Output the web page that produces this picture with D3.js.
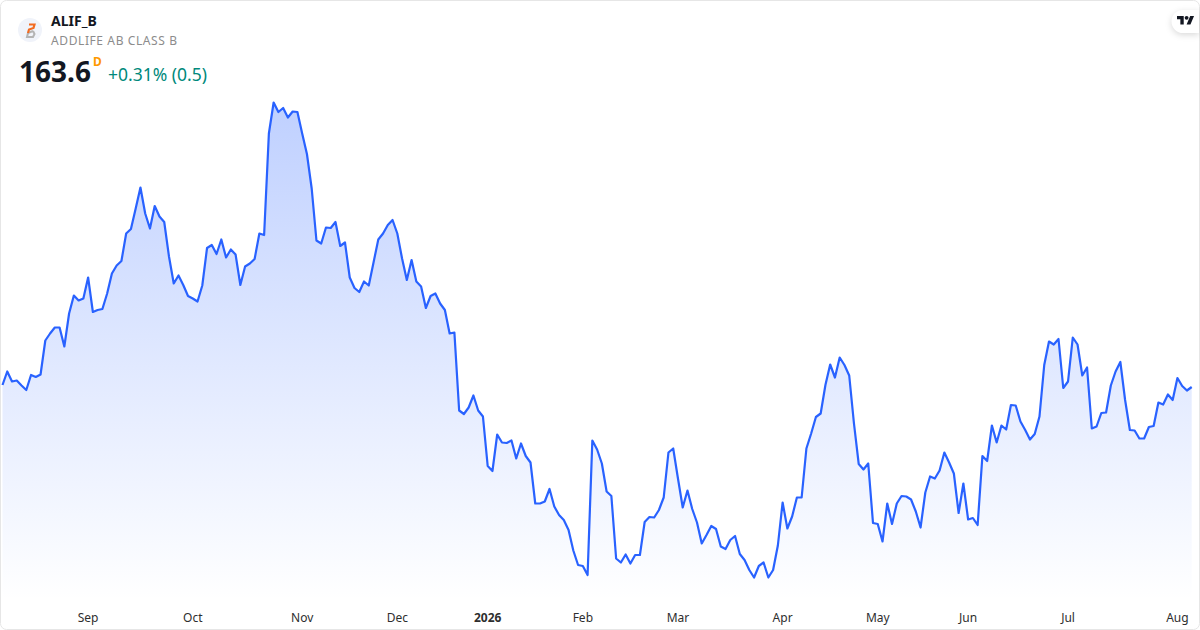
<!DOCTYPE html>
<html>
<head>
<meta charset="utf-8">
<script src="https://cdn.jsdelivr.net/npm/d3@7"></script>
<style>
  html, body { margin: 0; padding: 0; background: #fff; }
  svg { display: block; font-family: "Noto Sans", "Open Sans", sans-serif; }
</style>
</head>
<body>
<svg id="chart"></svg>
<script>
// closing prices, one per trading day
var closes = [
  164.0,166.7,164.7,164.9,163.9,163.0,166.0,165.6,166.1,172.9,
  174.3,175.5,175.5,171.7,178.3,181.9,180.9,181.3,185.5,178.6,
  179.0,179.2,182.3,186.3,187.9,188.8,194.3,195.2,199.3,203.5,
  198.3,195.3,199.8,197.7,196.6,189.7,184.3,185.9,184.0,181.8,
  181.3,180.7,183.9,191.4,192.0,190.2,193.1,189.5,191.1,190.1,
  184.0,187.7,188.3,189.2,194.3,194.0,214.3,220.5,218.6,219.4,
  217.5,218.7,218.6,214.3,210.2,203.3,192.9,192.3,195.5,195.4,
  196.6,191.8,192.5,185.5,183.4,182.6,184.7,183.9,188.5,193.1,
  194.3,196.0,197.0,194.3,189.3,185.0,189.0,184.7,183.7,179.4,
  181.8,182.3,180.3,179.0,174.3,174.5,158.9,158.2,159.5,161.9,
  158.9,157.7,147.8,146.8,154.1,152.5,152.4,152.9,149.3,152.3,
  149.8,148.5,140.3,140.3,140.7,143.2,139.7,138.0,137.0,135.0,
  130.9,128.0,127.8,126.0,152.9,151.1,148.3,142.7,141.8,129.3,
  128.5,130.1,128.3,130.0,130.0,136.6,137.6,137.5,139.0,141.5,
  150.5,151.3,145.3,139.5,142.9,139.2,136.5,132.3,134.0,135.8,
  135.2,131.7,131.2,133.0,133.8,130.2,129.0,127.0,125.5,127.8,
  128.5,125.5,127.0,131.9,140.5,135.3,137.7,141.5,141.5,151.3,
  154.3,157.6,158.3,164.0,168.1,165.5,169.5,168.0,165.9,156.3,
  148.2,147.1,148.3,136.4,136.2,132.7,140.3,136.2,140.3,141.8,
  141.7,141.1,138.7,135.5,142.5,145.7,145.3,146.9,150.5,148.5,
  146.3,138.4,144.3,137.1,137.4,136.0,149.8,148.8,155.9,152.5,
  155.9,155.1,160.0,159.9,156.7,155.0,153.1,154.2,157.7,168.0,
  172.7,172.1,173.2,163.4,164.7,173.5,172.1,165.9,167.5,155.3,
  155.7,158.4,158.5,163.9,166.7,168.6,161.0,155.0,154.9,153.3,
  153.3,155.6,155.8,160.5,160.1,162.1,161.0,165.4,163.8,162.9,
  163.6
];

// month labels and the trading day they sit on
var tickDays = [18, 40, 63, 83, 102, 122, 142, 164, 184, 203, 224, 247];
var tickLabels = ["Sep", "Oct", "Nov", "Dec", "2026", "Feb", "Mar", "Apr", "May", "Jun", "Jul", "Aug"];

var symbol = "ALIF_B";
var company = "ADDLIFE AB CLASS B";
var lastPrice = "163.6";
var interval = "D";
var change = "+0.31% (0.5)";

var width = 1200, height = 630;

var svg = d3.select("#chart")
    .attr("width", width)
    .attr("height", height);

// card background and border
svg.append("rect")
    .attr("x", 0.5).attr("y", 0.5)
    .attr("width", width - 1).attr("height", height - 1)
    .attr("rx", 6)
    .style("fill", "#fff")
    .style("stroke", "#e6e6e6");

var x = d3.scaleLinear()
    .domain([0, closes.length - 1])
    .range([2.5, 1191.7]);

var y = d3.scaleLinear()
    .domain([121, 225])
    .range([600, 80]);

var grad = svg.append("defs").append("linearGradient")
    .attr("id", "fade")
    .attr("gradientUnits", "userSpaceOnUse")
    .attr("x1", 0).attr("x2", 0)
    .attr("y1", y(220.5)).attr("y2", 600);
grad.append("stop").attr("offset", 0).attr("stop-color", "#2962ff").attr("stop-opacity", 0.3);
grad.append("stop").attr("offset", 1).attr("stop-color", "#2962ff").attr("stop-opacity", 0);

var area = d3.area()
    .x((d, i) => x(i))
    .y0(600)
    .y1(d => y(d));

var line = d3.line()
    .x((d, i) => x(i))
    .y(d => y(d));

svg.append("path")
    .datum(closes)
    .attr("d", area)
    .style("fill", "url(#fade)");

svg.append("path")
    .datum(closes)
    .attr("d", line)
    .style("fill", "none")
    .style("stroke", "#2962ff")
    .style("stroke-width", 2.2)
    .style("stroke-linejoin", "round");

// month axis
var axis = d3.axisBottom(x)
    .tickValues(tickDays)
    .tickSize(0)
    .tickPadding(0)
    .offset(0)
    .tickFormat((d, i) => tickLabels[i]);

var axisG = svg.append("g")
    .attr("transform", "translate(0,613)")
    .call(axis);
axisG.select(".domain").remove();
axisG.selectAll("text")
    .style("font-family", "'Noto Sans', 'Open Sans', sans-serif")
    .style("font-size", "12px")
    .style("fill", "#2e2e2e")
    .style("font-weight", (d, i) => tickLabels[i] === "2026" ? 700 : 400);

// logo
var logo = svg.append("g");
logo.append("circle").attr("cx", 30).attr("cy", 30).attr("r", 12).style("fill", "#f0f3fa");
logo.append("path").attr("d", "M33 31 L34.5 34 L33 37 H27 L28 33 L33 31")
    .style("fill", "none").style("stroke", "#b4b4b4").style("stroke-width", 2);
logo.append("path").attr("d", "M29 24.5 H34.5 L33.5 28 L29 29.5 L28 33")
    .style("fill", "none").style("stroke", "#f26b21").style("stroke-width", 2.2);

// header text
svg.append("text").attr("x", 51).attr("y", 26)
    .text(symbol)
    .style("font-size", "14px").style("font-weight", 700).style("fill", "#131722");
svg.append("text").attr("x", 51).attr("y", 45)
    .text(company)
    .style("font-size", "12px").style("letter-spacing", "0.6px").style("fill", "#8c8c8c");
svg.append("text").attr("x", 19).attr("y", 82)
    .text(lastPrice)
    .style("font-size", "28px").style("font-weight", 700).style("fill", "#131722");
svg.append("text").attr("x", 93).attr("y", 66)
    .text(interval)
    .style("font-size", "12px").style("font-weight", 700).style("fill", "#ff9800");
svg.append("text").attr("x", 108).attr("y", 81)
    .text(change)
    .style("font-size", "17.5px").style("fill", "#00897b");

// TradingView badge
var badge = svg.append("g");
badge.append("path")
    .attr("d", "M1199 10 H1183 A11.5 11.5 0 0 0 1183 33 H1199 Z")
    .style("fill", "#fff")
    .style("filter", "drop-shadow(0 2px 3px rgba(0,0,0,0.15))");
var tv = badge.append("g").attr("transform", "translate(1177,14) scale(0.48)");
tv.append("path").attr("d", "M14 22H7V11H0V4h14v18zM28 22h-8l7.5-18h8L28 22z").style("fill", "#131722");
tv.append("circle").attr("cx", 20).attr("cy", 8).attr("r", 4).style("fill", "#131722");
</script>
</body>
</html>
